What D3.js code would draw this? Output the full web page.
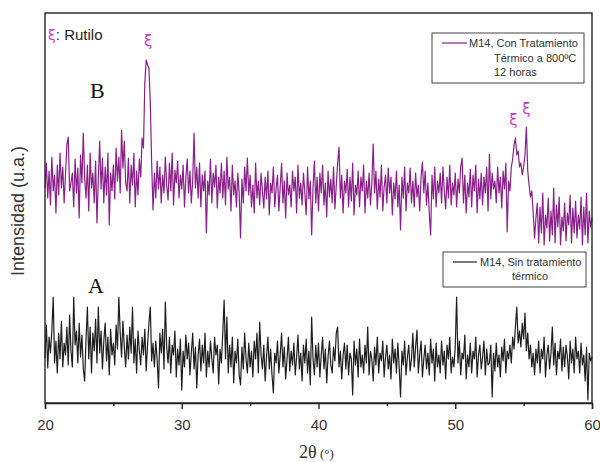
<!DOCTYPE html>
<html><head><meta charset="utf-8">
<script src="https://cdn.jsdelivr.net/npm/d3@7"></script>
<style>body{margin:0;background:#fff}</style>
</head><body>
<svg id="c" width="600" height="462"></svg>
<script>
// 2θ grid of the scans
const thetaStart = 20, thetaStep = 0.1;
// B: M14, con tratamiento térmico a 800ºC 12 horas (intensity, a.u.)
const seriesB = [
215,240,205,232,198,246,212,228,190,238,
208,250,215,236,200,229,258,266,212,220,
230,196,244,210,235,185,248,220,270,225,
205,238,192,250,215,230,200,242,180,225,
262,214,245,200,236,208,250,178,230,212,
238,204,255,222,246,210,273,235,262,220,
212,245,200,238,218,250,196,232,208,244,
226,265,255,320,343,338,335,300,240,193,
230,205,242,214,236,200,228,210,246,218,
203,240,212,250,198,233,220,242,205,228,
214,238,196,226,244,210,232,200,222,270,
215,236,205,240,196,228,212,232,170,222,
208,244,200,230,216,238,195,226,210,240,
205,232,198,246,214,226,192,238,208,222,
196,230,210,165,224,200,236,212,245,208,
228,196,218,190,240,205,222,198,230,212,
195,226,204,232,188,220,210,236,196,214,
228,192,216,240,200,222,185,230,208,218,
196,232,212,226,190,238,205,220,198,230,
210,188,236,204,222,168,215,242,200,226,
192,230,210,238,198,220,186,232,206,224,
200,236,194,218,240,256,205,228,190,222,
210,234,196,226,202,240,188,218,208,232,
196,226,212,238,190,222,205,230,198,220,
259,210,232,194,224,206,238,192,216,228,
200,235,210,226,188,220,204,232,196,218,
173,226,205,236,192,220,210,235,200,222,
196,230,206,218,192,226,241,210,232,198,
220,190,168,228,204,236,196,222,210,230,
200,236,212,194,226,205,238,198,220,208,
230,196,224,210,236,245,200,228,190,220,
206,234,196,228,212,238,190,224,204,230,
198,226,210,236,192,249,204,230,214,222,
200,236,210,226,195,232,214,240,171,222,
212,236,244,258,265,248,252,236,240,228,
236,248,276,232,218,206,212,190,165,185,
200,160,196,170,210,158,188,175,205,162,
192,168,215,160,198,176,206,158,186,172,
200,162,190,178,208,160,195,170,202,165,
188,174,206,158,196,168,210,160,192,176,
185];
// A: M14, sin tratamiento térmico
const seriesA = [
45,78,35,66,50,72,106,40,62,30,
70,44,82,36,60,48,76,38,88,52,
36,106,58,72,40,80,46,68,34,22,
64,96,44,76,30,70,52,84,40,96,
50,72,34,62,80,42,66,28,74,48,
60,38,78,54,106,70,46,82,56,36,
68,44,76,50,96,40,64,30,72,52,
38,66,48,74,32,58,80,96,42,60,
36,62,44,15,70,50,74,34,101,56,
40,66,30,58,48,72,26,54,38,64,
13,52,36,68,44,60,28,50,70,34,
56,15,48,64,32,58,40,70,26,52,
36,62,44,30,66,48,58,19,54,40,
70,103,44,86,30,58,36,66,20,52,
40,64,28,18,56,34,70,44,30,60,
36,52,26,62,44,70,30,81,48,34,
58,22,46,66,34,54,28,10,50,40,
62,30,48,70,36,56,24,44,66,32,
52,38,60,28,46,68,34,50,22,58,
40,64,30,52,18,86,44,28,58,36,
60,26,48,66,34,54,20,46,62,38,
30,56,42,70,76,36,52,24,48,60,
34,58,28,50,44,8,62,38,54,26,
64,36,48,30,58,40,76,28,52,44,
22,56,38,66,30,50,42,62,26,46,
58,34,48,24,64,40,54,30,60,36,
6,52,38,62,28,46,58,32,44,70,
36,56,73,30,48,62,26,44,58,34,
50,28,64,40,54,22,60,36,48,30,
62,38,52,24,58,44,66,30,46,36,
56,106,40,62,28,50,44,68,24,48,
36,60,30,52,44,66,26,48,58,34,
46,62,28,54,38,40,58,6,50,32,
60,36,48,26,56,42,64,30,52,44,
58,40,66,54,76,96,60,72,56,80,
64,90,52,70,44,58,36,50,28,54,
40,62,30,54,44,66,26,48,58,34,
50,76,38,60,28,52,44,64,32,56,
36,58,46,24,62,40,54,30,66,44,
52,30,60,38,48,22,56,3,50,42,
46];
const xTicks = [20,30,40,50,60];
const xMinorTicks = [25,35,45,55];
const legendB = ["M14, Con Tratamiento","Térmico a 800ºC","12 horas"];
const legendA = ["M14, Sin tratamiento","térmico"];
// rutile peaks marked with ξ (2θ, intensity)
const rutilePeaks = [[27.55,357],[54.25,278],[55.2,289]];

const L=45,R=592,T=13,B=403;
const svg=d3.select("#c");
const x=d3.scaleLinear().domain([20,60]).range([L,R]);
const y=d3.scaleLinear().domain([0,390]).range([B,T]);
const line=d3.line().x((d,i)=>x(thetaStart+i*thetaStep)).y(d=>y(d));

const purple="#8a1f8a", mag="#cc3ccc", txt="#333";
const sans="Liberation Sans, Arial, sans-serif", serif="Liberation Serif, Times New Roman, serif";

svg.append("path").datum(seriesB).attr("d",line)
  .attr("fill","none").attr("stroke",purple).attr("stroke-width",1.2).attr("stroke-linejoin","round");
svg.append("path").datum(seriesA).attr("d",line)
  .attr("fill","none").attr("stroke","#1e1e1e").attr("stroke-width",1.2).attr("stroke-linejoin","round");

// frame
svg.append("rect").attr("x",L).attr("y",T).attr("width",R-L).attr("height",B-T)
  .attr("fill","none").attr("stroke","#222").attr("stroke-width",1.4);

// x axis
const ax=svg.append("g").attr("transform",`translate(0,${B})`)
  .call(d3.axisBottom(x).tickValues(xTicks).tickSize(6).tickPadding(10).tickFormat(d3.format("d")));
ax.select(".domain").attr("stroke","#222").attr("stroke-width",1.4);
ax.selectAll(".tick line").attr("stroke","#222").attr("stroke-width",1.4);
ax.selectAll(".tick text").attr("font-family",sans).attr("font-size",15).attr("fill",txt);
const axm=svg.append("g").attr("transform",`translate(0,${B})`)
  .call(d3.axisBottom(x).tickValues(xMinorTicks).tickSize(3).tickFormat(""));
axm.select(".domain").remove();
axm.selectAll(".tick line").attr("stroke","#222").attr("stroke-width",1.4);

// axis titles
svg.append("text").attr("transform","translate(24,211) rotate(-90)")
  .attr("text-anchor","middle").attr("font-family",sans)
  .attr("font-size",18).attr("fill",txt).text("Intensidad (u.a.)");
const xl=svg.append("text").attr("x",299).attr("y",458)
  .attr("font-family",serif).attr("fill",txt);
xl.append("tspan").attr("font-size",18).text("2θ");
xl.append("tspan").attr("font-size",13).text(" (°)");

// annotations
const rt=svg.append("text").attr("x",48).attr("y",40).attr("font-family",sans).attr("font-size",15);
rt.append("tspan").attr("fill",mag).attr("font-family","DejaVu Sans, sans-serif").attr("font-size",14).text("ξ");
rt.append("tspan").attr("fill","#222").text(": Rutilo");
svg.selectAll("text.xi").data(rutilePeaks).join("text").attr("class","xi")
  .attr("x",d=>x(d[0])).attr("y",d=>y(d[1])).attr("text-anchor","middle")
  .attr("font-family","DejaVu Sans, sans-serif").attr("font-size",15)
  .attr("fill",mag).text("ξ");
svg.append("text").attr("x",90).attr("y",98).attr("font-family",serif)
  .attr("font-size",22).attr("fill","#111").text("B");
svg.append("text").attr("x",88).attr("y",293).attr("font-family",serif)
  .attr("font-size",22).attr("fill","#111").text("A");

// legends
function legend(bx,by,bw,bh,lx1,lx2,ly,color,lines,pos){
  const g=svg.append("g");
  g.append("rect").attr("x",bx).attr("y",by).attr("width",bw).attr("height",bh)
    .attr("fill","#fff").attr("stroke","#444").attr("stroke-width",1);
  g.append("line").attr("x1",lx1).attr("x2",lx2).attr("y1",ly).attr("y2",ly)
    .attr("stroke",color).attr("stroke-width",1.2);
  lines.forEach((t,i)=>g.append("text").attr("x",pos[i][0]).attr("y",pos[i][1])
    .attr("font-family",sans).attr("font-size",11).attr("fill",txt).text(t));
}
legend(432,33,152,50,442,467,43,purple,legendB,[[469,47],[494,62],[494,76]]);
legend(443,252,143,35,453,477,262,"#222",legendA,[[480,266],[512,280]]);
</script>
</body></html>
